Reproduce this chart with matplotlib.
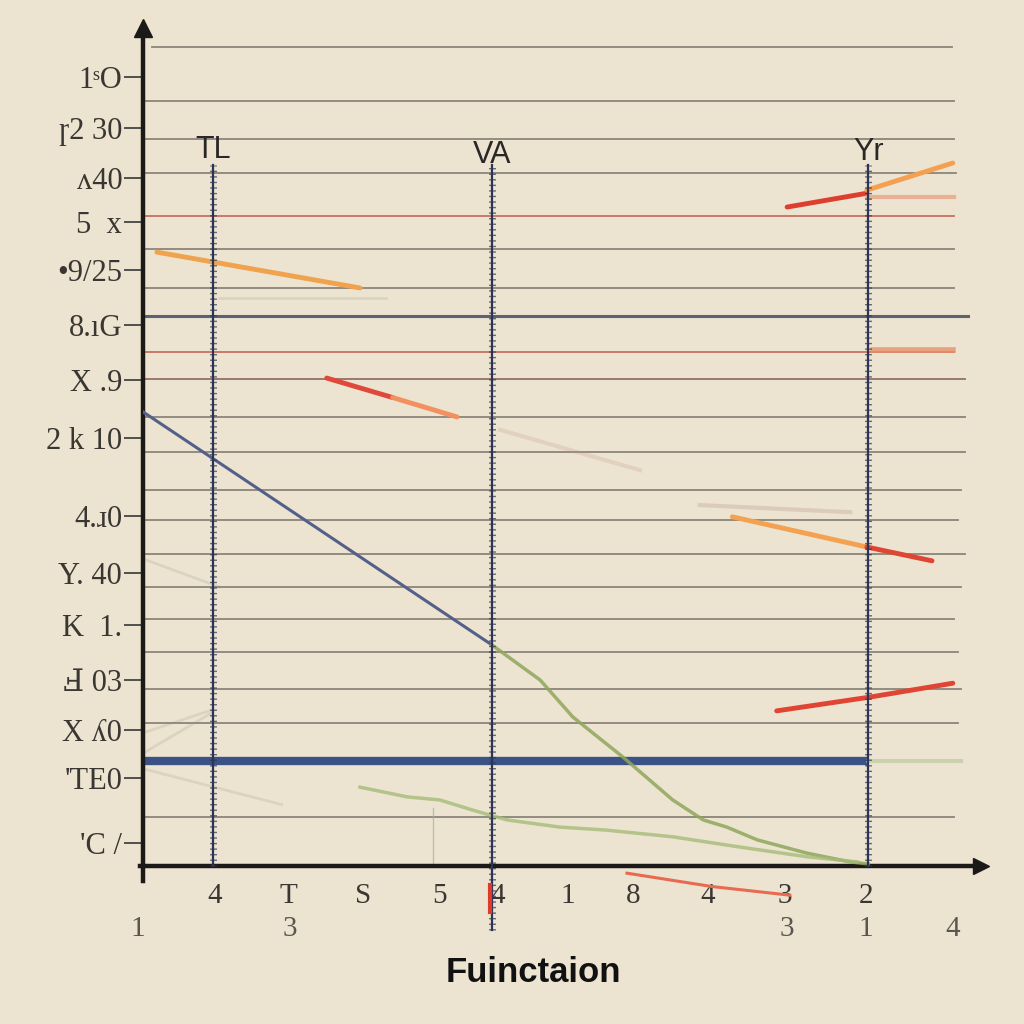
import matplotlib
matplotlib.use("Agg")
import matplotlib.pyplot as plt

# ---------------- data ----------------
ytick_pos = [15.41, 14.41, 13.44, 12.58, 11.64, 10.57, 9.49, 8.36, 6.84, 5.72, 4.71, 3.63, 2.66, 1.72, 0.45]
ytick_labels = ["1ˢO", "ɼ2 30", "ʌ40", "5  x", "•9/25", "8.ıG", "X .9", "2 k 10",
                "4.ɹ0", "Y. 40", "K  1.", "Ⅎ 03", "X ʎ0", "'TE0", "'C /"]

grid_y = [16.0, 14.94, 14.2, 13.54, 12.70, 12.05, 11.29, 10.74, 10.04, 9.51, 8.77, 8.09,
          7.34, 6.76, 6.09, 5.45, 4.82, 4.18, 3.46, 2.79, 0.96]
grid_x0 = [0.13, 0.0, 0.0, 0.0, 0.0, 0.0, 0.0, 0.0, 0.0, 0.0, 0.0, 0.0,
           0.0, 0.0, 0.0, 0.0, 0.0, 0.0, 0.0, 0.0, 0.0]
grid_x1 = [11.67, 11.7, 11.7, 11.72, 11.7, 11.7, 11.7, 11.9, 11.7, 11.85, 11.85, 11.85,
           11.8, 11.75, 11.85, 11.8, 11.7, 11.75, 11.8, 11.75, 11.7]
grid_kind = ["g", "g", "g", "g", "r", "g", "g", "s", "r", "b", "g", "g",
             "g", "g", "g", "g", "g", "g", "g", "g", "g"]

blue_band_y = 2.05
blue_band_x = [0.0, 10.46]

ruler_x = [1.01, 5.03, 10.46]
ruler_top = [13.7, 13.7, 13.7]
ruler_bottom = [0.0, -1.25, 0.0]
ruler_names = ["TL", "VA", "Yr"]
ruler_label_y = [13.98, 13.89, 13.95]

diag_x = [0.0, 5.03]
diag_y = [8.87, 4.32]

green1_x = [5.03, 5.73, 6.20, 6.92, 7.64, 8.08, 8.42, 8.86, 9.58, 10.20, 10.46]
green1_y = [4.32, 3.63, 2.91, 2.13, 1.29, 0.90, 0.76, 0.51, 0.25, 0.08, 0.04]

green2_x = [3.13, 3.81, 4.28, 4.76, 5.25, 6.01, 6.69, 7.64, 8.61, 9.58, 10.30]
green2_y = [1.54, 1.35, 1.29, 1.09, 0.90, 0.76, 0.70, 0.57, 0.37, 0.18, 0.08]

orange_a_x = [0.20, 3.13]; orange_a_y = [11.99, 11.29]
red_b_x = [2.65, 3.6]; red_b_y = [9.53, 9.15]
orange_b_x = [3.6, 4.53]; orange_b_y = [9.15, 8.77]
red_c_x = [9.29, 10.44]; red_c_y = [12.87, 13.14]
orange_c_x = [10.44, 11.68]; orange_c_y = [13.20, 13.73]
salmon_c_x = [10.44, 11.70]; salmon_c_y = [13.07, 13.07]
salmon_d_x = [10.53, 11.68]; salmon_d_y = [10.08, 10.08]
orange_e_x = [8.50, 10.44]; orange_e_y = [6.82, 6.23]
red_e_x = [10.44, 11.38]; red_e_y = [6.23, 5.96]
red_f_x = [9.14, 10.49, 11.68]; red_f_y = [3.03, 3.30, 3.57]
red_g_x = [6.98, 8.2, 9.33]; red_g_y = [-0.14, -0.40, -0.57]
faint_p1_x = [5.15, 7.17]; faint_p1_y = [8.52, 7.73]
faint_p2_x = [8.03, 10.20]; faint_p2_y = [7.05, 6.91]

ghost_x = [[0.0, 1.1], [0.0, 1.0], [0.0, 1.0], [0.0, 2.0], [1.1, 3.5]]
ghost_y = [[6.0, 5.45], [2.6, 3.05], [2.2, 3.0], [1.9, 1.2], [11.1, 11.1]]

xlab1 = ["4", "T", "S", "5", "4", "1", "8", "4", "3", "2"]
xlab1_x = [1.04, 2.09, 3.17, 4.28, 5.11, 6.12, 7.07, 8.15, 9.26, 10.43]
xlab2 = ["1", "3", "3", "1", "4"]
xlab2_x = [-0.07, 2.12, 9.29, 10.43, 11.68]

# ---------------- style ----------------
BG = "#ece4d1"
INK = "#1c1a18"
GRID = "#8b857a"
NAVY = "#2c3456"
SERIF = ["Liberation Serif", "DejaVu Serif"]
SANS = ["Liberation Sans", "DejaVu Sans"]

fig = plt.figure(figsize=(10.24, 10.24), dpi=100)
fig.patch.set_facecolor(BG)
ax = fig.add_axes([143 / 1024, (1024 - 866) / 1024, 832 / 1024, 838 / 1024])
ax.set_facecolor(BG)
ax.set_xlim(0, 12)
ax.set_ylim(0, 838 / 51.2)

for s in ["top", "right"]:
    ax.spines[s].set_visible(False)
for s in ["left", "bottom"]:
    ax.spines[s].set_linewidth(3.2)
    ax.spines[s].set_color(INK)

# gridlines
for y, x0, x1, k in zip(grid_y, grid_x0, grid_x1, grid_kind):
    if k == "r":
        ax.plot([x0, x1], [y, y], color="#c8705e", lw=1.3, zorder=1)
    elif k == "s":
        ax.plot([x0, x1], [y, y], color="#5d6272", lw=2.2, zorder=1)
    elif k == "b":
        ax.plot([x0, x1], [y, y], color="#9a7a70", lw=1.4, zorder=1)
    else:
        ax.plot([x0, x1], [y, y], color=GRID, lw=1.3, zorder=1)

# ghost strokes
for gx, gy in zip(ghost_x, ghost_y):
    ax.plot(gx, gy, color="#8a8a70", lw=2, alpha=0.18, zorder=1)
ax.plot(faint_p1_x, faint_p1_y, color="#c09080", lw=3, alpha=0.22, zorder=1)
ax.plot(faint_p2_x, faint_p2_y, color="#b09080", lw=3, alpha=0.28, zorder=1)
ax.plot([4.18, 4.18], [1.13, 0.0], color="#b0aa9a", lw=1.0, alpha=0.7, zorder=1)

# thick blue band
ax.plot(blue_band_x, [blue_band_y] * 2, color="#3b5286", lw=6, zorder=2, solid_capstyle="butt")
ax.plot([10.46, 11.8], [blue_band_y] * 2, color="#b8c498", lw=3, alpha=0.6, zorder=2)

# diagonal + green curves
ax.plot(diag_x, diag_y, color="#55608a", lw=2.2, zorder=3)
ax.plot(green1_x, green1_y, color="#8fa65a", lw=2.5, alpha=0.85, zorder=3)
ax.plot(green2_x, green2_y, color="#a5bb78", lw=2.5, alpha=0.8, zorder=3)

# coloured segments
kw = dict(lw=3.5, solid_capstyle="round", zorder=4)
ax.plot(orange_a_x, orange_a_y, color="#f0a24e", **kw)
ax.plot(red_b_x, red_b_y, color="#e0483a", **kw)
ax.plot(orange_b_x, orange_b_y, color="#f29060", **kw)
ax.plot(red_c_x, red_c_y, color="#de3e2e", **kw)
ax.plot(orange_c_x, orange_c_y, color="#f5a050", **kw)
ax.plot(salmon_c_x, salmon_c_y, color="#e89a7a", lw=3, alpha=0.7, zorder=4)
ax.plot(salmon_d_x, salmon_d_y, color="#e8906a", lw=4, alpha=0.8, zorder=4)
ax.plot(orange_e_x, orange_e_y, color="#f2a250", **kw)
ax.plot(red_e_x, red_e_y, color="#e04534", **kw)
ax.plot(red_f_x, red_f_y, color="#e04534", **kw)
ax.plot(red_g_x, red_g_y, color="#e86a50", lw=2.2, clip_on=False, zorder=4)

# ruler-like vertical dashed lines
for x, yt, yb, name, ly in zip(ruler_x, ruler_top, ruler_bottom, ruler_names, ruler_label_y):
    ax.plot([x, x], [yb, yt], color=NAVY, lw=1.6, clip_on=False, zorder=5)
    ax.plot([x, x], [yb, yt], color=NAVY, lw=5, ls=(0, (0.2, 0.6)), alpha=0.7,
            clip_on=False, zorder=5)
    ax.text(x, ly, name, ha="center", va="center", fontsize=22, color="#2a2826",
            family=SANS, zorder=6)

ax.plot([5.0, 5.0], [-0.37, -0.9], color="#e03a2a", lw=3, clip_on=False, zorder=6)

# axis extensions and arrowheads
ax.plot([0, 0], [0, -0.3], color=INK, lw=3.2, clip_on=False)
ax.plot([-0.05, 0], [0, 0], color=INK, lw=3.2, clip_on=False)
ax.plot([0], [838 / 51.2], marker="^", ms=13, color=INK, clip_on=False, zorder=7)
ax.plot([12.08], [0], marker=">", ms=11, color=INK, clip_on=False, zorder=7)
ax.plot([12, 12.08], [0, 0], color=INK, lw=3.2, clip_on=False)

# ticks
ax.set_yticks(ytick_pos)
ax.set_yticklabels(ytick_labels, family=SERIF, fontsize=22, color="#3a3632")
ax.tick_params(axis="y", length=14, width=1.3, color="#444", pad=1, direction="out")
ax.set_xticks([])

for t, x in zip(xlab1, xlab1_x):
    ax.text(x, -0.58, t, ha="center", va="center", fontsize=21, family=SERIF,
            color="#3a3632", clip_on=False)
for t, x in zip(xlab2, xlab2_x):
    ax.text(x, -1.24, t, ha="center", va="center", fontsize=21, family=SERIF,
            color="#5a5650", clip_on=False)

fig.text(533 / 1024, 1 - 972 / 1024, "Fuinctaion", ha="center", va="center",
         fontsize=25, fontweight="bold", family=SANS, color="#111111")

fig.savefig("out.png", dpi=100, facecolor=BG)
